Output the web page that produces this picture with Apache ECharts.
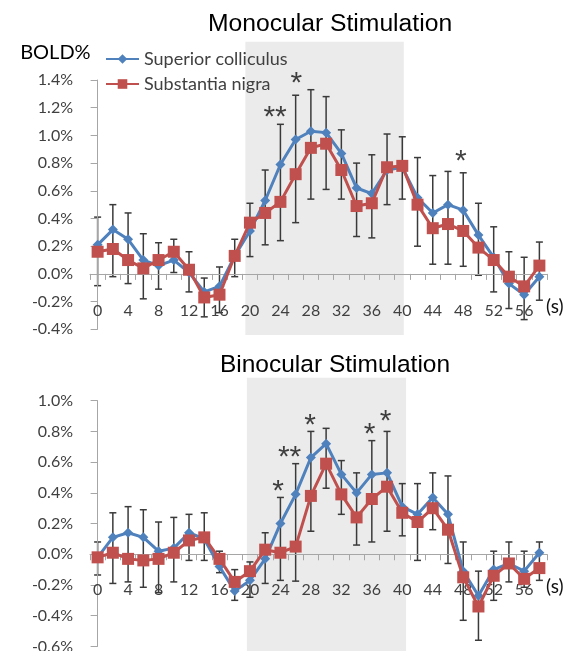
<!DOCTYPE html>
<html>
<head>
<meta charset="utf-8">
<script src="https://cdn.jsdelivr.net/npm/echarts@6/dist/echarts.min.js"></script>
<style>html,body{margin:0;padding:0;background:#fff}#c{width:584px;height:651px}</style>
</head>
<body>
<div id="c"></div>
<script>
// ---------- DATA ----------
const seconds = ['0','2','4','6','8','10','12','14','16','18','20','22','24','26','28','30','32','34','36','38','40','42','44','46','48','50','52','54','56','58'];
const seriesNames = ['Superior colliculus', 'Substantia nigra'];
const panelTitles = ['Monocular Stimulation', 'Binocular Stimulation'];

// Monocular (BOLD %)
const monoSC = [0.21,0.32,0.25,0.10,0.06,0.10,0.01,-0.13,-0.09,0.13,0.31,0.53,0.79,0.97,1.03,1.02,0.87,0.62,0.58,0.75,0.77,0.55,0.44,0.50,0.46,0.28,0.12,-0.07,-0.15,-0.02];
const monoSN = [0.16,0.18,0.10,0.04,0.10,0.16,0.03,-0.17,-0.15,0.13,0.37,0.44,0.52,0.72,0.91,0.94,0.75,0.49,0.51,0.77,0.78,0.50,0.33,0.36,0.31,0.19,0.10,-0.02,-0.09,0.06];
const monoErrLow  = [-0.085,-0.02,-0.07,-0.18,-0.11,0.01,-0.13,-0.31,-0.28,-0.02,0.125,0.21,0.24,0.37,0.54,0.61,0.54,0.27,0.26,0.50,0.54,0.20,0.07,0.07,0.055,-0.01,-0.13,-0.25,-0.33,-0.19];
const monoErrHigh = [0.41,0.50,0.44,0.29,0.225,0.25,0.16,-0.03,0.05,0.25,0.51,0.75,1.08,1.29,1.33,1.28,1.04,0.80,0.86,1.01,0.99,0.84,0.71,0.74,0.73,0.51,0.34,0.16,0.12,0.23];

// Binocular (BOLD %)
const binoSC = [-0.02,0.11,0.14,0.11,0.02,0.04,0.14,0.10,-0.08,-0.24,-0.17,-0.03,0.20,0.39,0.63,0.72,0.52,0.40,0.52,0.53,0.31,0.26,0.37,0.26,-0.11,-0.27,-0.10,-0.06,-0.11,0.01];
const binoSN = [-0.02,0.01,-0.03,-0.04,-0.03,0.01,0.09,0.11,-0.03,-0.18,-0.11,0.03,0.01,0.05,0.38,0.59,0.39,0.24,0.36,0.44,0.27,0.21,0.30,0.16,-0.15,-0.34,-0.14,-0.06,-0.16,-0.09];
const binoErrLow  = [-0.135,-0.19,-0.18,-0.215,-0.25,-0.18,-0.04,-0.04,-0.12,-0.30,-0.28,-0.19,-0.17,-0.175,0.15,0.43,0.26,0.06,0.08,0.15,0.12,-0.04,0.16,-0.06,-0.43,-0.56,-0.30,-0.18,-0.215,-0.17];
const binoErrHigh = [0.08,0.27,0.31,0.29,0.21,0.24,0.26,0.27,0.02,-0.10,-0.05,0.14,0.37,0.59,0.80,0.82,0.61,0.53,0.74,0.80,0.46,0.46,0.53,0.51,0.08,-0.11,0.02,0.08,0.02,0.08];

// Stimulation window (in category-index units)
const monoStim = [9.7, 20.1];
const binoStim = [9.8, 20.25];

// Significance markers (category-index x, BOLD % y, text)
const monoSigX = [11.65, 13.05, 23.85];
const monoSigY = [1.13, 1.37, 0.81];
const monoSigT = ['**', '*', '*'];
const binoSigX = [11.85, 12.6, 13.95, 17.85, 18.9];
const binoSigY = [0.41, 0.63, 0.84, 0.78, 0.86];
const binoSigT = ['*', '**', '*', '*', '*'];

// ---------- CHART ----------
const BLUE = '#4F81BD', RED = '#C0504D', AXIS = '#a6a6a6', LBL = '#404040';
const FONT = 'Lato';
const chart = echarts.init(document.getElementById('c'), null, {renderer: 'canvas'});

function catAxis(gridIndex, labelMargin) {
  return {
    type: 'category', gridIndex, data: seconds, boundaryGap: true,
    axisLine: {onZero: true, lineStyle: {color: AXIS, width: 1}},
    axisTick: {show: true, interval: 0, length: 6, lineStyle: {color: AXIS}},
    axisLabel: {interval: 1, margin: labelMargin, color: LBL, fontSize: 16, fontFamily: FONT, hideOverlap: false},
    name: '\n(s)', nameLocation: 'end', nameGap: -1,
    nameTextStyle: {color: '#111', fontSize: 19, fontFamily: FONT, align: 'left', verticalAlign: 'middle', lineHeight: 66},
    splitLine: {show: false}, z: 1
  };
}
function valAxis(gridIndex, min, max, name) {
  return {
    type: 'value', gridIndex, min, max, interval: 0.2,
    axisLine: {show: true, lineStyle: {color: AXIS}},
    axisTick: {show: true, length: 7, lineStyle: {color: AXIS}},
    axisLabel: {margin: 17, color: LBL, fontSize: 16, fontFamily: FONT,
      formatter: v => v.toFixed(1) + '%'},
    splitLine: {show: false},
    name: name || '', nameLocation: 'end', nameGap: 27,
    nameTextStyle: {color: '#000', fontSize: 20, fontFamily: FONT, align: 'right', verticalAlign: 'middle', padding: [0, 7, 0, 0]},
    z: 1
  };
}
function hiddenVal(gridIndex, min, max) {
  return {type: 'value', gridIndex, min, max, show: false, splitLine: {show: false}};
}

function errSeries(xi, yi, lo, hi) {
  return {
    type: 'custom', xAxisIndex: xi, yAxisIndex: yi, z: 1,
    silent: true,
    data: seconds.map((s, i) => [i, lo[i], hi[i]]),
    encode: {x: 0, y: [1, 2]},
    renderItem: function (params, api) {
      const i = api.value(0);
      const a = api.coord([i, api.value(1)]);
      const b = api.coord([i, api.value(2)]);
      const cw = 3.5, st = {stroke: '#3a3a3a', lineWidth: 1.5};
      return {type: 'group', children: [
        {type: 'line', shape: {x1: a[0], y1: a[1], x2: b[0], y2: b[1]}, style: st},
        {type: 'line', shape: {x1: b[0] - cw, y1: b[1], x2: b[0] + cw, y2: b[1]}, style: st},
        {type: 'line', shape: {x1: a[0] - cw, y1: a[1], x2: a[0] + cw, y2: a[1]}, style: st}
      ]};
    }
  };
}
function shadeSeries(xi, yi, range) {
  return {
    type: 'custom', xAxisIndex: xi, yAxisIndex: yi, z: -1, silent: true,
    data: [[range[0], range[1]]],
    encode: {x: [0, 1]},
    renderItem: function (params, api) {
      const p0 = api.coord([api.value(0), 1]);
      const p1 = api.coord([api.value(1), 0]);
      return {type: 'rect', shape: {x: p0[0], y: p0[1], width: p1[0] - p0[0], height: p1[1] - p0[1]},
        style: {fill: '#ebebeb'}};
    }
  };
}
function lineSeries(name, data, xi, yi, color, symbol, size, z) {
  return {
    name, type: 'line', xAxisIndex: xi, yAxisIndex: yi, data,
    symbol, symbolSize: size, showSymbol: true, showAllSymbol: true, z,
    lineStyle: {color, width: 3},
    itemStyle: {color, borderColor: color, borderWidth: 0},
    emphasis: {disabled: true}
  };
}
function sigSeries(xi, yi, xs, ys, ts) {
  return {
    type: 'scatter', xAxisIndex: xi, yAxisIndex: yi, z: 6, silent: true,
    symbolSize: 1, itemStyle: {color: 'rgba(0,0,0,0)'},
    data: xs.map((x, i) => ({value: [x, ys[i]], label: {formatter: ts[i]}})),
    label: {show: true, position: 'inside', color: '#111', fontSize: 30,
      fontFamily: 'Liberation Sans', align: 'center', verticalAlign: 'middle'}
  };
}

const G = {outerBoundsMode: 'none', containLabel: false};
const option = {
  backgroundColor: '#fff',
  animation: false,
  title: [
    {text: panelTitles[0], left: 325, top: 7, textAlign: 'center',
      textStyle: {fontFamily: 'Liberation Sans', fontSize: 24.7, fontWeight: 'normal', color: '#000'}},
    {text: panelTitles[1], left: 330, top: 348, textAlign: 'center',
      textStyle: {fontFamily: 'Liberation Sans', fontSize: 24.5, fontWeight: 'normal', color: '#000'}}
  ],
  legend: {
    data: seriesNames, orient: 'vertical', left: 100, top: 45,
    itemWidth: 33, itemHeight: 12, itemGap: 7,
    textStyle: {fontFamily: FONT, fontSize: 18, color: LBL}
  },
  grid: [
    Object.assign({left: 90, top: 80, width: 457, height: 249.3}, G),
    Object.assign({left: 90, top: 400.7, width: 457, height: 245.7}, G),
    Object.assign({left: 90, top: 41.7, width: 457, height: 293.3}, G),
    Object.assign({left: 90, top: 377.7, width: 457, height: 280}, G)
  ],
  xAxis: [
    catAxis(0, -26), catAxis(1, -65),
    hiddenVal(0, -0.5, 29.5), hiddenVal(1, -0.5, 29.5),
    hiddenVal(2, -0.5, 29.5), hiddenVal(3, -0.5, 29.5)
  ],
  yAxis: [
    valAxis(0, -0.4, 1.4, 'BOLD%'), valAxis(1, -0.6, 1.0),
    hiddenVal(2, 0, 1), hiddenVal(3, 0, 1)
  ],
  series: [
    shadeSeries(4, 2, monoStim),
    shadeSeries(5, 3, binoStim),
    errSeries(0, 0, monoErrLow, monoErrHigh),
    errSeries(1, 1, binoErrLow, binoErrHigh),
    lineSeries(seriesNames[0], monoSC, 0, 0, BLUE, 'diamond', 10, 3),
    lineSeries(seriesNames[1], monoSN, 0, 0, RED, 'rect', 12, 4),
    lineSeries(seriesNames[0], binoSC, 1, 1, BLUE, 'diamond', 10, 3),
    lineSeries(seriesNames[1], binoSN, 1, 1, RED, 'rect', 12, 4),
    sigSeries(2, 0, monoSigX, monoSigY, monoSigT),
    sigSeries(3, 1, binoSigX, binoSigY, binoSigT)
  ]
};
chart.setOption(option);
</script>
</body>
</html>
